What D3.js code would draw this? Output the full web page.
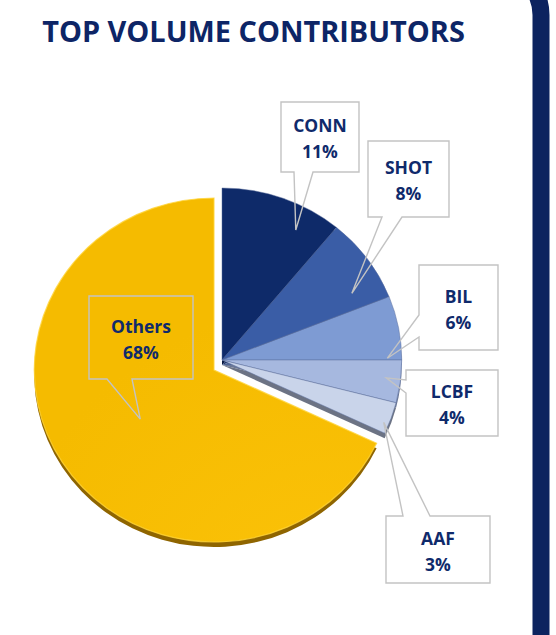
<!DOCTYPE html>
<html>
<head>
<meta charset="utf-8">
<script src="https://cdn.jsdelivr.net/npm/d3@7"></script>
<style>
  body { margin: 0; background: #fff; }
  svg { display: block; }
</style>
</head>
<body>
<svg></svg>
<script>
// données du graphique
const categories = ["CONN", "SHOT", "BIL", "LCBF", "AAF", "Others"];
const shares = [11, 8, 6, 4, 3, 68];
const colors = ["#0E2A69", "#3A5DA6", "#7E9BD3", "#A6B8DF", "#C9D4EA", "#F7BE04"];
const sideColors = ["#061640", "#22386C", "#4E6494", "#6A7796", "#6C7384", "#8F6500"];

const width = 556, height = 635;
const svg = d3.select("svg").attr("width", width).attr("height", height);

const cx = 222, cy = 360, R = 172, sx = 1.045;
const explode = { Others: [-8, 10] };
const depth = 5;

// position des bulles (mise en page)
const callouts = {
  CONN:   { box: [281, 102, 78, 70],  side: "bottom", p: 294, q: 313, f: 0.72, k: 0.86 },
  SHOT:   { box: [368, 141, 81, 76],  side: "bottom", p: 382, q: 402, f: 0.77, k: 0.82 },
  BIL:    { box: [419, 265, 79, 85],  side: "left",   p: 315, q: 337, f: 0.97, k: 0.92 },
  LCBF:   { box: [406, 370, 92, 66],  side: "left",   p: 380, q: 393, f: 0.45, k: 0.92 },
  AAF:    { box: [386, 516, 104, 67], side: "top",    p: 403, q: 430, f: 0.7,  k: 0.97 },
  Others: { box: [89, 296, 104, 83],  side: "bottom", p: 107, q: 132, f: 0.49, k: 0.5 }
};

const defs = svg.append("defs");
const grad = defs.append("radialGradient").attr("id", "gOthers")
  .attr("gradientUnits", "userSpaceOnUse")
  .attr("cx", 120).attr("cy", 260).attr("r", 330);
grad.append("stop").attr("offset", "0%").attr("stop-color", "#FCC30A");
grad.append("stop").attr("offset", "100%").attr("stop-color", "#F5BB00");

const fontFam = "'Open Sans', Lato, sans-serif";

// titre
const title = svg.append("text")
  .attr("x", 253.5).attr("y", 42)
  .attr("text-anchor", "middle")
  .attr("font-family", fontFam)
  .attr("font-weight", 700)
  .attr("font-size", 26)
  .attr("fill", "#0D2566")
  .text("TOP VOLUME CONTRIBUTORS");
const tw = title.node().getComputedTextLength();
title.attr("font-size", 26 * 423 / tw);

// bordure droite arrondie
svg.append("rect")
  .attr("x", -600).attr("y", -32.5)
  .attr("width", 1141).attr("height", 2000)
  .attr("rx", 47.5)
  .attr("fill", "none")
  .attr("stroke", "#0C235F")
  .attr("stroke-width", 17);

const pie = d3.pie().sort(null).value(d => d.value);
const arcs = pie(categories.map((c, i) => ({ name: c, value: shares[i], i })));
const arc = d3.arc().innerRadius(0).outerRadius(R);

function off(d) { return explode[d.data.name] || [0, 0]; }

const pieG = svg.append("g");

// épaisseur 3D
pieG.selectAll("path.side")
  .data(arcs)
  .join("path")
  .attr("class", "side")
  .attr("transform", d => `translate(${cx + off(d)[0]},${cy + off(d)[1] + depth}) scale(${sx},1)`)
  .attr("d", arc)
  .attr("fill", d => sideColors[d.data.i]);

// dessus
pieG.selectAll("path.top")
  .data(arcs)
  .join("path")
  .attr("class", "top")
  .attr("transform", d => `translate(${cx + off(d)[0]},${cy + off(d)[1]}) scale(${sx},1)`)
  .attr("d", arc)
  .attr("fill", d => d.data.name === "Others" ? "url(#gOthers)" : colors[d.data.i])
  .attr("stroke", d => d.data.name === "Others" ? "#FFD43A" : "#5A6E9C")
  .attr("stroke-width", d => d.data.name === "Others" ? 1.2 : 0.6)
  .attr("stroke-opacity", 0.8)
  .attr("vector-effect", "non-scaling-stroke");

// bulles
function tipOf(d, c) {
  const a = d.startAngle + c.f * (d.endAngle - d.startAngle);
  const r = c.k * R;
  const o = off(d);
  return [cx + o[0] + sx * r * Math.sin(a), cy + o[1] - r * Math.cos(a)];
}

function calloutPath(c, tip) {
  const [x, y, w, h] = c.box;
  const pts = [[x, y]];
  if (c.side === "top") pts.push([c.p, y], tip, [c.q, y]);
  pts.push([x + w, y], [x + w, y + h]);
  if (c.side === "bottom") pts.push([c.q, y + h], tip, [c.p, y + h]);
  pts.push([x, y + h]);
  if (c.side === "left") pts.push([x, c.q], tip, [x, c.p]);
  return "M" + pts.map(p => p.join(",")).join("L") + "Z";
}

const labelG = svg.append("g");
arcs.forEach(d => {
  const c = callouts[d.data.name];
  const tip = tipOf(d, c);
  labelG.append("path")
    .attr("d", calloutPath(c, tip))
    .attr("fill", "none")
    .attr("stroke", "#C3C3C3")
    .attr("stroke-width", 1.4);
  const [x, y, w, h] = c.box;
  const t = labelG.append("text")
    .attr("text-anchor", "middle")
    .attr("font-family", fontFam)
    .attr("font-weight", 700)
    .attr("font-size", 17.5)
    .attr("fill", "#0F2A6B");
  t.append("tspan").attr("x", x + w / 2).attr("y", y + h / 2 - 5).text(d.data.name);
  t.append("tspan").attr("x", x + w / 2).attr("y", y + h / 2 + 21).text(d.data.value + "%");
});
</script>
</body>
</html>
